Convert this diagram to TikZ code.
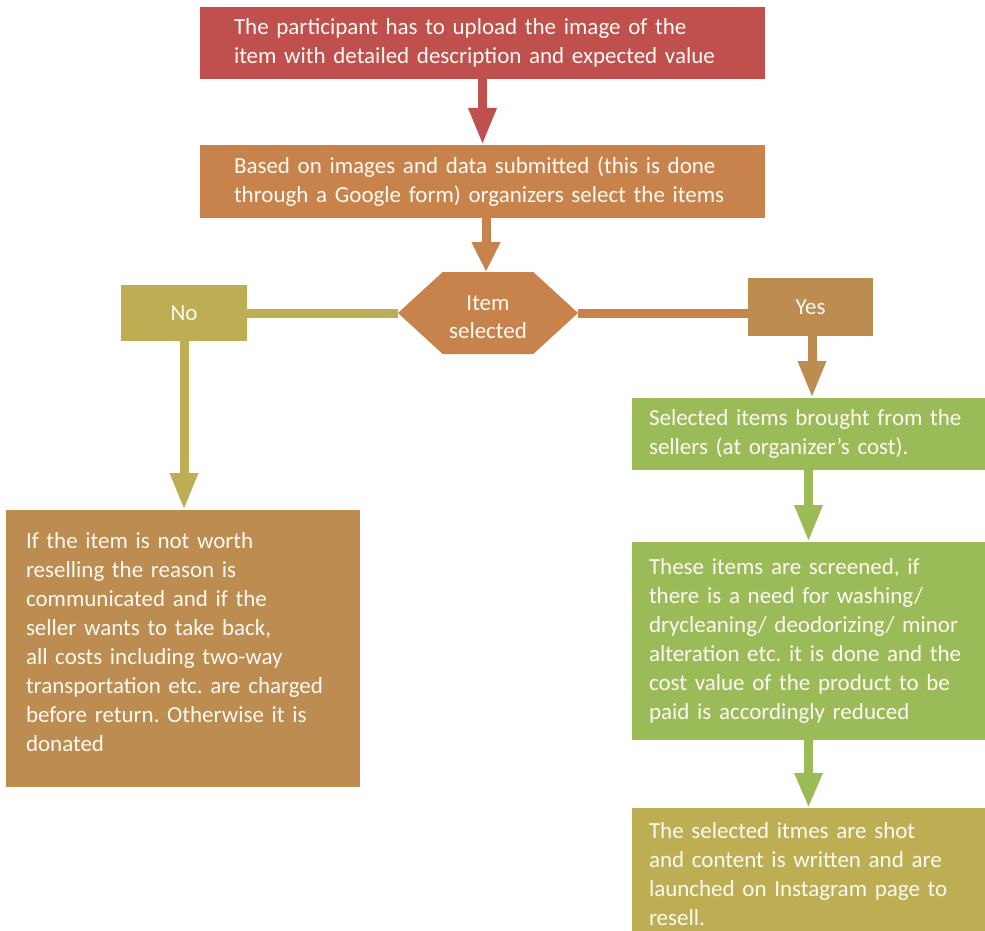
\documentclass[tikz,border=0pt]{standalone}
\usepackage{fontspec}
\setmainfont{Carlito}
\frenchspacing
\usetikzlibrary{arrows.meta,shapes.symbols,backgrounds}
\definecolor{cred}{HTML}{C0504D}
\definecolor{corange}{HTML}{C8834C}
\definecolor{cbrown}{HTML}{BD8C50}
\definecolor{cgreen}{HTML}{9BBB59}
\definecolor{colive}{HTML}{BEAE53}
\definecolor{ctext}{HTML}{FDFAF3}
\begin{document}
\begin{tikzpicture}[x=1pt,y=-1pt,
  panel/.style={rectangle, fill=#1, text=ctext, inner ysep=0pt, outer sep=0pt,
    font=\fontsize{23}{29}\selectfont\frenchspacing, align=left},
  tag/.style={rectangle, fill=#1, text=ctext, inner sep=0pt, outer sep=0pt,
    font=\fontsize{23}{29}\selectfont, align=center},
  conn/.style={line width=9pt, draw=#1},
  arr/.style={line width=9pt, draw=#1, -{Triangle[width=26pt,length=37pt]}}]
\useasboundingbox (0,0) rectangle (985,931);

\node[panel=cred, minimum width=565pt, minimum height=72pt, inner xsep=34pt, text width=497pt] (b1) at (482.5,43)
  {\mbox{The participant has to upload the image of the}\\\mbox{item with detailed description and expected value}};
\node[panel=corange, minimum width=565pt, minimum height=73pt, inner xsep=34pt, text width=497pt] (b2) at (482.5,181.5)
  {\mbox{Based on images and data submitted (this is done}\\\mbox{through a Google form) organizers select the items}};
\node[shape=signal, signal to=west and east, signal pointer angle=85, fill=corange, text=ctext,
  minimum width=180pt, minimum height=82pt, inner sep=0pt, outer sep=0pt, align=center,
  font=\fontsize{23}{28}\selectfont] (hex) at (488,313) {\rule{0pt}{24pt}Item\\selected};
\node[tag=colive, minimum width=126pt, minimum height=56pt] (no) at (184,313) {No};
\node[tag=cbrown, minimum width=125pt, minimum height=58pt] (yes) at (810.5,307) {Yes};
\node[panel=cbrown, minimum width=354pt, minimum height=277pt, inner xsep=20pt, text width=314pt] (left) at (183,648.5)
  {\mbox{If the item is not worth}\\\mbox{reselling the reason is}\\\mbox{communicated and if the}\\\mbox{seller wants to take back,}\\\mbox{all costs including two-way}\\\mbox{transportation etc. are charged}\\\mbox{before return. Otherwise it is}\\\mbox{donated\rule[-12pt]{0pt}{12pt}}};
\node[panel=cgreen, minimum width=353pt, minimum height=72pt, inner xsep=17pt, text width=319pt] (g1) at (808.5,434)
  {\mbox{Selected items brought from the}\\\mbox{sellers (at organizer’s cost).}};
\node[panel=cgreen, minimum width=353pt, minimum height=198pt, inner xsep=17pt, text width=319pt] (g2) at (808.5,641)
  {\mbox{These items are screened, if}\\\mbox{there is a need for washing/}\\\mbox{drycleaning/ deodorizing/ minor}\\\mbox{alteration etc. it is done and the}\\\mbox{cost value of the product to be}\\\mbox{paid is accordingly reduced}};
\node[panel=colive, minimum width=353pt, minimum height=123pt, inner xsep=17pt, text width=319pt] (g3) at (808.5,869.5)
  {\mbox{\rule{0pt}{26pt}The selected itmes are shot}\\\mbox{and content is written and are}\\\mbox{launched on Instagram page to}\\\mbox{resell.}};

\begin{scope}[on background layer]
\draw[arr=cred] (b1) -- (b2);
\draw[arr=corange, -{Triangle[width=27pt,length=30pt]}] ([xshift=-2pt]b2.south -| hex.north) -- ([xshift=-2pt]hex.north);
\draw[conn=colive] (hex.west) -- (hex.west -| no.east);
\draw[conn=corange] (hex.east) -- (hex.east -| yes.west);
\draw[arr=colive] (no.south) -- (no.south |- left.north);
\draw[arr=cbrown] ([xshift=1.5pt]yes.south) -- ([xshift=1.5pt]yes.south |- g1.north);
\draw[arr=cgreen] (g1) -- (g2);
\draw[arr=cgreen, -{Triangle[width=26pt,length=35pt]}] (g2) -- (g3);
\end{scope}
\end{tikzpicture}
\end{document}
